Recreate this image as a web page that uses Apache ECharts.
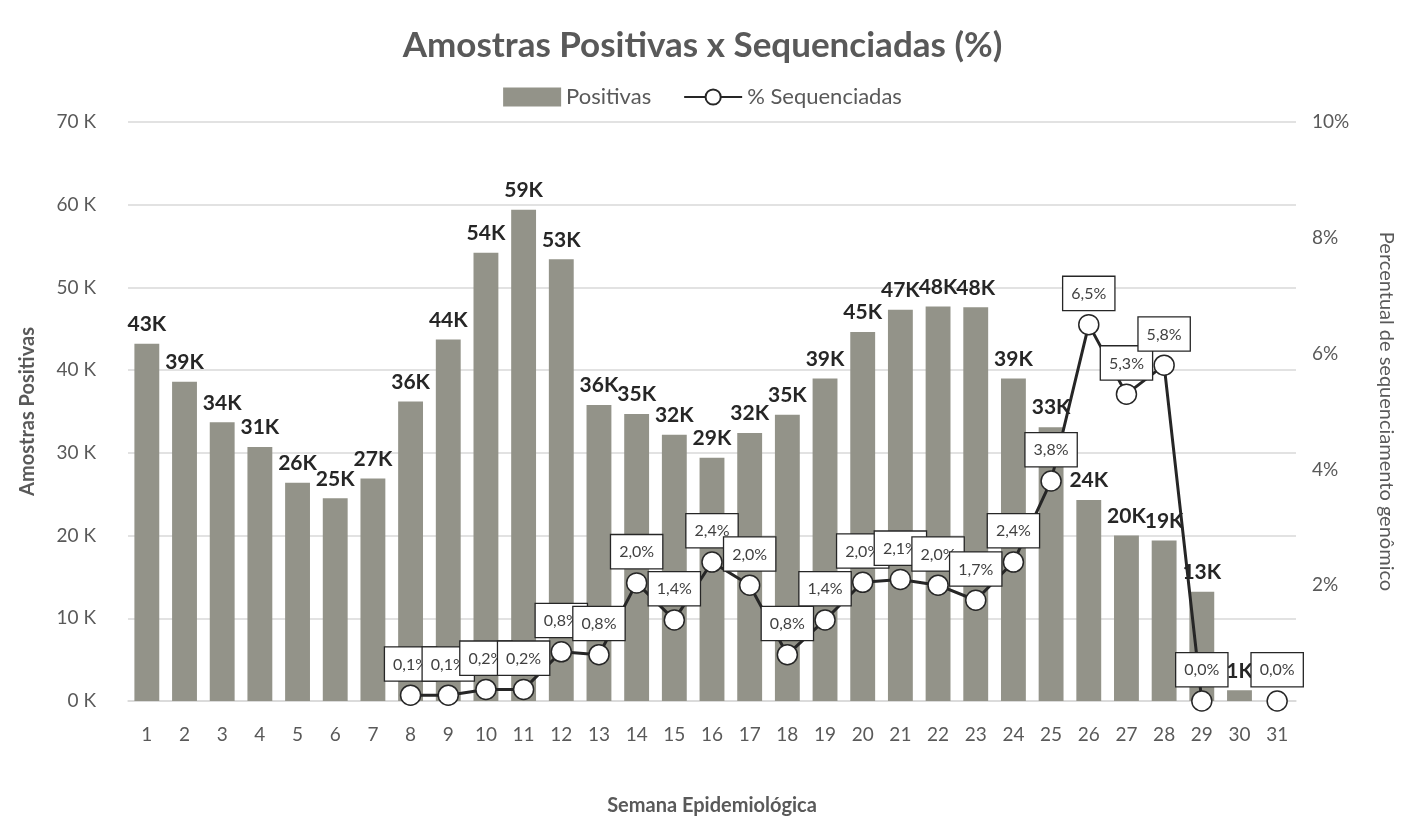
<!DOCTYPE html>
<html>
<head>
<meta charset="utf-8">
<script src="https://cdn.jsdelivr.net/npm/echarts@6/dist/echarts.min.js"></script>
<style>
  html, body { margin: 0; padding: 0; background: #fff; }
  #chart { width: 1405px; height: 818px; }
</style>
</head>
<body>
<div id="chart"></div>
<script>
// semanas epidemiológicas
const weeks = ['1','2','3','4','5','6','7','8','9','10','11','12','13','14','15','16',
  '17','18','19','20','21','22','23','24','25','26','27','28','29','30','31']

// amostras positivas, em milhares
const positivas = [43.2, 38.6, 33.7, 30.7, 26.4, 24.5, 26.9, 36.2, 43.7, 54.2, 59.4, 53.4,
  35.8, 34.7, 32.2, 29.4, 32.4, 34.6, 39.0, 44.6, 47.3, 47.7, 47.6, 39.0, 33.1, 24.3,
  20.0, 19.4, 13.2, 1.3, 0]

// % sequenciadas
const sequenciadas = [null, null, null, null, null, null, null, 0.1, 0.1, 0.2, 0.2, 0.85,
  0.8, 2.04, 1.4, 2.4, 2.0, 0.8, 1.4, 2.05, 2.1, 2.0, 1.74, 2.4, 3.8, 6.5, 5.3, 5.8,
  0.0, null, 0.0]

const font = 'Lato, "Open Sans", sans-serif'
const grey = '#595959'

const option = {
  textStyle: { fontFamily: font },
  title: {
    text: 'Amostras Positivas x Sequenciadas (%)',
    left: 'center',
    top: 23,
    textStyle: { fontSize: 35, fontWeight: 'bold', color: grey, fontFamily: font }
  },
  legend: {
    top: 81,
    left: 'center',
    itemGap: 32,
    itemWidth: 58,
    itemHeight: 19,
    textStyle: { fontSize: 22, color: grey, fontFamily: font },
    data: [
      { name: 'Positivas', icon: 'rect', itemStyle: { color: '#939389' } },
      { name: '% Sequenciadas' }
    ]
  },
  grid: { left: 128, right: 109, top: 122, bottom: 117, outerBoundsMode: 'none' },
  xAxis: {
    type: 'category',
    data: weeks,
    name: 'Semana Epidemiológica',
    nameLocation: 'middle',
    nameGap: 95,
    nameTextStyle: { fontSize: 20, fontWeight: 'bold', color: grey },
    axisTick: { show: false },
    axisLine: { lineStyle: { color: '#d9d9d9', width: 1.5 } },
    axisLabel: { fontSize: 19, color: grey, margin: 24 }
  },
  yAxis: [
    {
      type: 'value',
      min: 0,
      max: 70,
      interval: 10,
      name: 'Amostras Positivas',
      nameLocation: 'middle',
      nameGap: 90,
      nameTextStyle: { fontSize: 20, fontWeight: 'bold', color: grey },
      axisLabel: { fontSize: 19, color: grey, margin: 32, formatter: '{value} K' },
      splitLine: { lineStyle: { color: '#d9d9d9', width: 1.5 } }
    },
    {
      type: 'value',
      min: 0,
      max: 10,
      interval: 2,
      name: 'Percentual de sequenciamento genômico',
      nameLocation: 'middle',
      nameRotate: -90,
      nameGap: 80,
      nameTextStyle: { fontSize: 20, color: grey },
      axisLabel: {
        fontSize: 19, color: grey, margin: 16,
        formatter: v => v === 0 ? '' : v + '%'
      },
      splitLine: { show: false }
    }
  ],
  series: [
    {
      name: 'Positivas',
      type: 'bar',
      data: positivas,
      barWidth: '66%',
      itemStyle: { color: '#939389' },
      label: {
        show: true,
        position: 'top',
        distance: 9,
        fontSize: 21,
        fontWeight: 'bold',
        color: '#262626',
        formatter: p => p.value ? Math.round(p.value) + 'K' : ''
      },
      z: 2
    },
    {
      name: '% Sequenciadas',
      type: 'line',
      yAxisIndex: 1,
      data: sequenciadas,
      connectNulls: false,
      symbol: 'circle',
      symbolSize: 20,
      lineStyle: { color: '#262626', width: 3 },
      itemStyle: { color: '#fff', borderColor: '#262626', borderWidth: 1.5 },
      label: {
        show: true,
        position: 'top',
        distance: 4,
        fontSize: 16,
        color: '#404040',
        backgroundColor: '#fff',
        borderColor: '#262626',
        borderWidth: 1.3,
        padding: [9, 8, 8, 8],
        formatter: p => p.value.toFixed(1).replace('.', ',') + '%'
      },
      z: 5
    }
  ]
}

const chart = echarts.init(document.getElementById('chart'))
chart.setOption(option)
</script>
</body>
</html>
